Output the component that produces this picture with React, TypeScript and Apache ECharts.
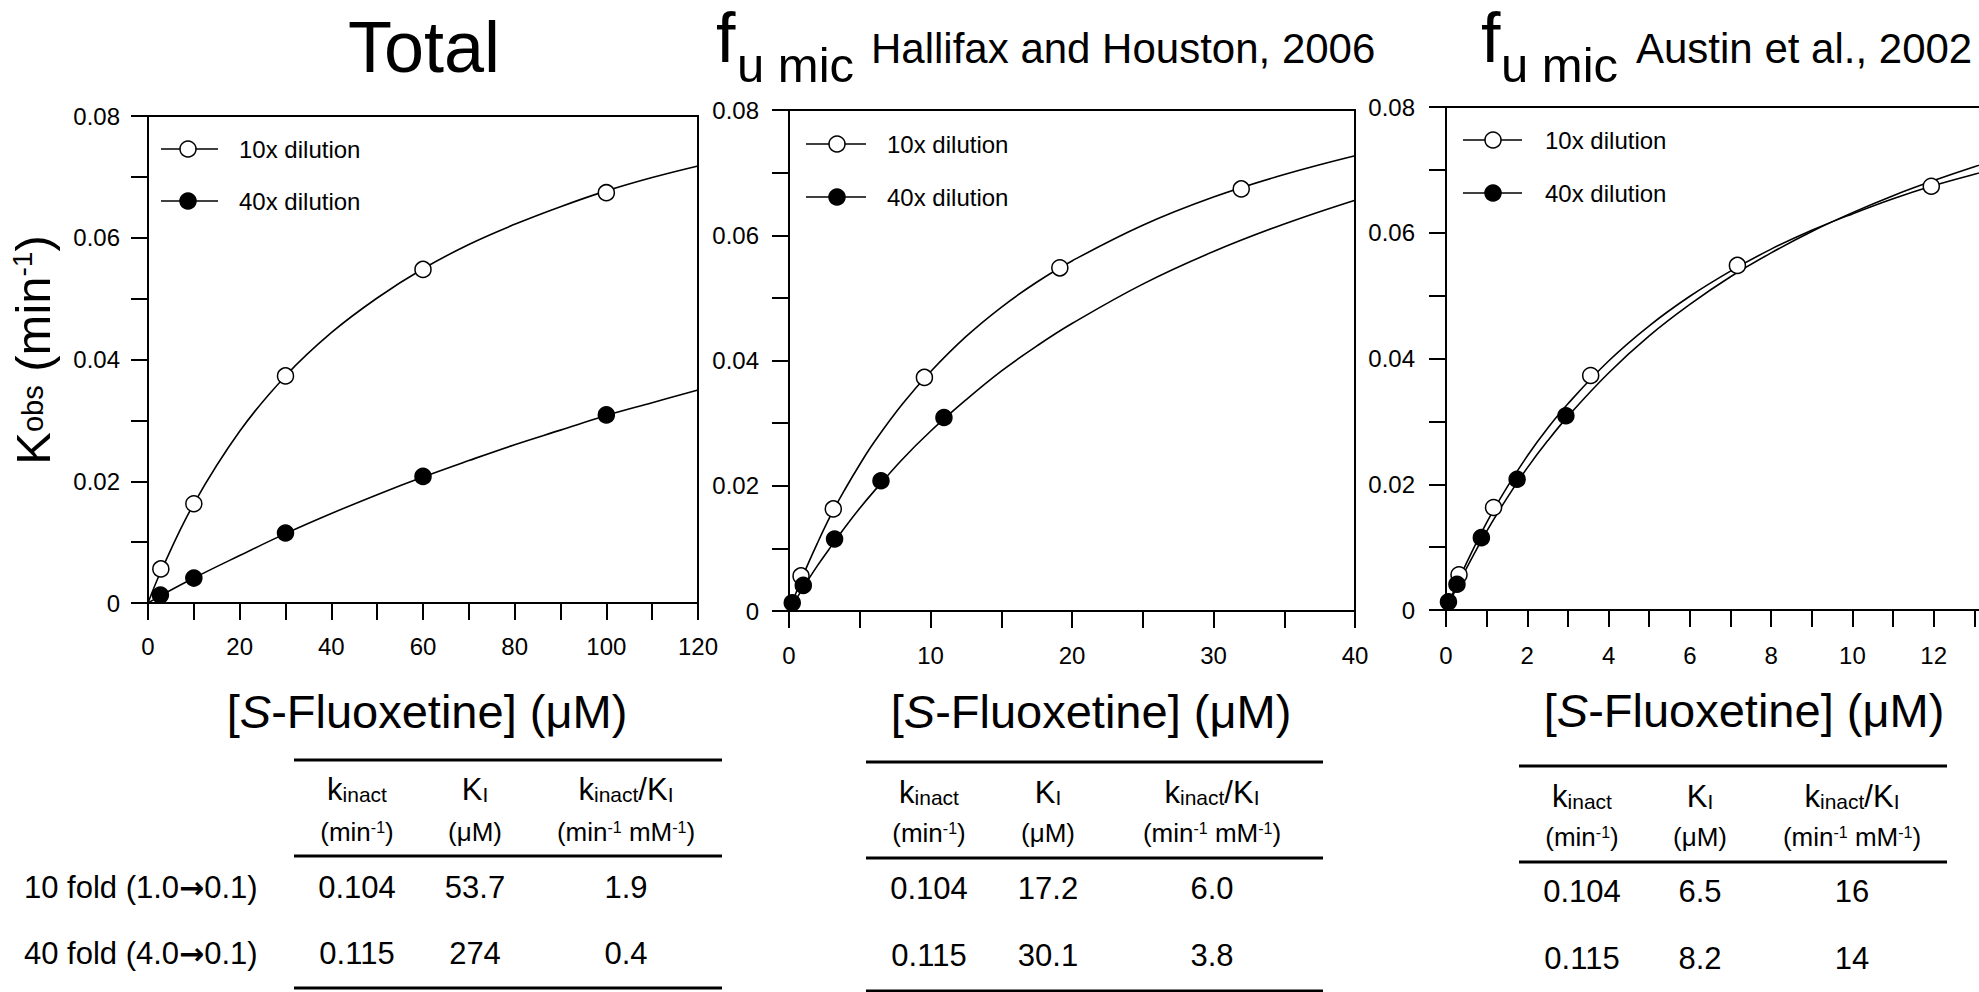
import React, { useEffect, useRef } from "react";
import * as echarts from "echarts";

const FONT = "'Liberation Sans', Arial, Helvetica, sans-serif";

// ---------------- data ----------------
// measured kobs (min^-1) for the 5 concentrations of each dilution
const kobs10 = [0.0056, 0.0163, 0.0373, 0.0548, 0.0674];
const kobs40 = [0.0013, 0.0041, 0.0115, 0.0208, 0.0309];

// x positions: total, fu mic (Hallifax & Houston 2006), fu mic (Austin 2002)
const conc10Total = [2.8, 10, 30, 60, 100];
const conc40Total = [2.7, 10, 30, 60, 100];
const conc10Hallifax = [0.85, 3.13, 9.57, 19.14, 31.96];
const conc40Hallifax = [0.23, 1.01, 3.22, 6.5, 10.95];
const conc10Austin = [0.32, 1.17, 3.56, 7.17, 11.94];
const conc40Austin = [0.06, 0.27, 0.87, 1.75, 2.95];

// fitted curves
const fitXTotal = [0, 3, 10, 20, 30, 40, 50, 60, 70, 80, 90, 100, 110, 120];
const fit10Total = [0, 0.0055, 0.0163, 0.0282, 0.0373, 0.0444, 0.0501, 0.0549, 0.0589, 0.0622, 0.0651, 0.0677, 0.0699, 0.0718];
const fit40Total = [0, 0.0013, 0.0041, 0.0078, 0.0114, 0.0147, 0.0178, 0.0207, 0.0234, 0.026, 0.0284, 0.0308, 0.0329, 0.035];

const fitXHallifax = [0, 1, 2, 3, 4, 5, 6, 8, 10, 12.5, 15, 17.5, 20, 25, 30, 35, 40];
const fit10Hallifax = [0, 0.0057, 0.0108, 0.0155, 0.0196, 0.0234, 0.0269, 0.033, 0.0382, 0.0438, 0.0485, 0.0525, 0.0559, 0.0616, 0.0661, 0.0697, 0.0727];
const fit40Hallifax = [0, 0.0037, 0.0072, 0.0104, 0.0135, 0.0164, 0.0191, 0.0242, 0.0287, 0.0337, 0.0383, 0.0423, 0.0459, 0.0522, 0.0574, 0.0618, 0.0656];

const fitXAustin = [0, 0.25, 0.5, 1, 1.5, 2, 2.5, 3, 4, 5, 6, 7, 8, 9, 10, 11, 12, 13, 14];
const fit10Austin = [0, 0.0039, 0.0074, 0.0139, 0.0195, 0.0245, 0.0289, 0.0328, 0.0396, 0.0452, 0.0499, 0.0539, 0.0574, 0.0604, 0.063, 0.0654, 0.0675, 0.0693, 0.071];
const fit40Austin = [0, 0.0034, 0.0066, 0.0125, 0.0178, 0.0226, 0.0269, 0.0308, 0.0377, 0.0436, 0.0486, 0.053, 0.0568, 0.0602, 0.0632, 0.0659, 0.0683, 0.0705, 0.0725];

// axes
const yMax = 0.08;
const yInterval = 0.02;
const xMaxes = [120, 40, 14];
const xIntervals = [20, 10, 2];
const showXMaxLabel = [true, true, false];

// legend / titles / tables
const legendNames = ["10x dilution", "40x dilution"];
const panelSources = ["", "Hallifax and Houston, 2006", "Austin et al., 2002"];
const rowLabels = ["10 fold (1.0{a|\u2192}0.1)", "40 fold (4.0{a|\u2192}0.1)"];
const kinactValues = ["0.104", "0.115"];
const kiValues = [["53.7", "274"], ["17.2", "30.1"], ["6.5", "8.2"]];
const ratioValues = [["1.9", "0.4"], ["6.0", "3.8"], ["16", "14"]];

// ---------------- layout ----------------
const GRIDS = [
  { left: 148, top: 116, width: 550, height: 487 },
  { left: 789, top: 110, width: 566, height: 501 },
  { left: 1446, top: 107, width: 569, height: 503 },
];
const X_LABEL_MARGIN = [31, 32, 33];
const Y_LABEL_MARGIN = [28, 30, 31];

const LEGENDS = [
  { x1: 161, x2: 218, cx: 188, tx: 239, y: [149, 201] },
  { x1: 806, x2: 866, cx: 837, tx: 887, y: [144, 197] },
  { x1: 1463, x2: 1522, cx: 1493, tx: 1545, y: [140, 193] },
];

const X_TITLES = [
  { x: 427, y: 711 },
  { x: 1091, y: 711 },
  { x: 1744, y: 710 },
];

const TABLES = [
  { x1: 294, x2: 722, rules: [760, 856, 988], h1: 789, h2: 832, r: [887, 953], cols: [357, 475, 626] },
  { x1: 866, x2: 1323, rules: [762, 858, 991], h1: 792, h2: 833, r: [888, 955], cols: [929, 1048, 1212] },
  { x1: 1519, x2: 1947, rules: [766, 862], h1: 796, h2: 837, r: [891, 958], cols: [1582, 1700, 1852] },
];

const zip = (xs: number[], ys: number[]) => xs.map((x, i) => [x, ys[i]]);

function text(x: number, y: number, t: string, fontSize: number, extra: any = {}) {
  const { align = "center", rich, rotation, fontStyle } = extra;
  const el: any = {
    type: "text",
    x,
    y,
    silent: true,
    style: {
      text: t,
      fontSize,
      fontFamily: FONT,
      fill: "#000",
      align,
      verticalAlign: "middle",
      fontStyle,
      rich,
    },
  };
  if (rotation !== undefined) el.rotation = rotation;
  return el;
}

function buildOption() {
  const grid = GRIDS.map((g) => ({
    ...g,
    show: true,
    borderColor: "#000",
    borderWidth: 2,
    backgroundColor: "transparent",
    containLabel: false,
    outerBoundsMode: "none",
  }));

  const axisCommon = {
    type: "value",
    axisLine: { show: true, onZero: false, lineStyle: { color: "#000", width: 2 } },
    axisTick: { show: true, inside: false, length: 17, lineStyle: { color: "#000", width: 2 } },
    minorTick: { show: true, splitNumber: 2, length: 17, lineStyle: { color: "#000", width: 2 } },
    splitLine: { show: false },
    minorSplitLine: { show: false },
  };

  const xAxis = xMaxes.map((mx, i) => ({
    ...axisCommon,
    gridIndex: i,
    min: 0,
    max: mx,
    interval: xIntervals[i],
    axisLabel: {
      color: "#000",
      fontSize: 24,
      fontFamily: FONT,
      margin: X_LABEL_MARGIN[i],
      showMaxLabel: showXMaxLabel[i],
    },
  }));

  const yAxis = xMaxes.map((_, i) => ({
    ...axisCommon,
    gridIndex: i,
    min: 0,
    max: yMax,
    interval: yInterval,
    axisLabel: { color: "#000", fontSize: 24, fontFamily: FONT, margin: Y_LABEL_MARGIN[i] },
  }));

  const fits = [
    [fitXTotal, fit10Total, fit40Total],
    [fitXHallifax, fit10Hallifax, fit40Hallifax],
    [fitXAustin, fit10Austin, fit40Austin],
  ];
  const pts = [
    [conc10Total, conc40Total],
    [conc10Hallifax, conc40Hallifax],
    [conc10Austin, conc40Austin],
  ];

  const series: any[] = [];
  for (let i = 0; i < 3; i++) {
    const [fx, f10, f40] = fits[i];
    for (const fy of [f10, f40]) {
      series.push({
        type: "line",
        xAxisIndex: i,
        yAxisIndex: i,
        data: zip(fx, fy),
        smooth: 0.4,
        showSymbol: false,
        symbol: "none",
        silent: true,
        lineStyle: { color: "#000", width: 1.6 },
        z: 2,
      });
    }
    series.push({
      type: "scatter",
      name: legendNames[0],
      xAxisIndex: i,
      yAxisIndex: i,
      data: zip(pts[i][0], kobs10),
      symbol: "circle",
      symbolSize: 16,
      clip: false,
      itemStyle: { color: "#fff", borderColor: "#000", borderWidth: 1.5, opacity: 1 },
      z: 4,
    });
    series.push({
      type: "scatter",
      name: legendNames[1],
      xAxisIndex: i,
      yAxisIndex: i,
      data: zip(pts[i][1], kobs40),
      symbol: "circle",
      symbolSize: 16,
      clip: false,
      itemStyle: { color: "#000", borderColor: "#000", borderWidth: 1.5, opacity: 1 },
      z: 5,
    });
  }

  const g: any[] = [];

  // titles
  g.push(text(424, 47, "Total", 72));
  const titleX = [
    null,
    { f: 716, sub: 737, src: 871 },
    { f: 1481, sub: 1501, src: 1636 },
  ];
  for (let i = 1; i < 3; i++) {
    const t = titleX[i]!;
    g.push(text(t.f, 38, "f", 70, { align: "left" }));
    g.push(text(t.sub, 65, "u mic", 49, { align: "left" }));
    g.push(text(t.src, 48.5, panelSources[i], 42, { align: "left" }));
  }

  // y-axis title
  g.push(
    text(33, 350, "K{s|obs} (min{p|-1})", 49, {
      rotation: Math.PI / 2,
      rich: {
        s: { fontSize: 29, fontFamily: FONT, fill: "#000", verticalAlign: "middle" },
        p: { fontSize: 28, fontFamily: FONT, fill: "#000", verticalAlign: "top" },
      },
    })
  );

  // x-axis titles
  X_TITLES.forEach((p) => {
    g.push(
      text(p.x, p.y, "[{i|S}-Fluoxetine] (\u03bcM)", 47, {
        rich: { i: { fontSize: 47, fontFamily: FONT, fill: "#000", fontStyle: "italic" } },
      })
    );
  });

  // legends
  LEGENDS.forEach((L) => {
    legendNames.forEach((name, k) => {
      const y = L.y[k];
      g.push({ type: "line", silent: true, shape: { x1: L.x1, y1: y, x2: L.x2, y2: y }, style: { stroke: "#000", lineWidth: 1.6 } });
      g.push({
        type: "circle",
        silent: true,
        shape: { cx: L.cx, cy: y, r: 8 },
        style: { fill: k === 0 ? "#fff" : "#000", stroke: "#000", lineWidth: 1.5 },
      });
      g.push(text(L.tx, y, name, 24, { align: "left" }));
    });
  });

  // tables
  const headRich = {
    b: { fontSize: 31, fontFamily: FONT, fill: "#000", verticalAlign: "bottom" },
    s: { fontSize: 21, fontFamily: FONT, fill: "#000", verticalAlign: "bottom" },
  };
  const unitRich = {
    p: { fontSize: 16, fontFamily: FONT, fill: "#000", verticalAlign: "top" },
  };
  TABLES.forEach((T, ti) => {
    T.rules.forEach((ry) => {
      g.push({ type: "line", silent: true, shape: { x1: T.x1, y1: ry, x2: T.x2, y2: ry }, style: { stroke: "#000", lineWidth: 3 } });
    });
    g.push(text(T.cols[0], T.h1, "{b|k}{s|inact}", 31, { rich: headRich }));
    g.push(text(T.cols[1], T.h1, "{b|K}{s|I}", 31, { rich: headRich }));
    g.push(text(T.cols[2], T.h1, "{b|k}{s|inact}{b|/K}{s|I}", 31, { rich: headRich }));
    g.push(text(T.cols[0], T.h2, "(min{p|-1})", 26, { rich: unitRich }));
    g.push(text(T.cols[1], T.h2, "(\u03bcM)", 26));
    g.push(text(T.cols[2], T.h2, "(min{p|-1} mM{p|-1})", 26, { rich: unitRich }));
    for (let r = 0; r < 2; r++) {
      g.push(text(T.cols[0], T.r[r], kinactValues[r], 31));
      g.push(text(T.cols[1], T.r[r], kiValues[ti][r], 31));
      g.push(text(T.cols[2], T.r[r], ratioValues[ti][r], 31));
    }
  });
  rowLabels.forEach((lab, r) => {
    g.push(
      text(24, TABLES[0].r[r], lab, 31, {
        align: "left",
        rich: { a: { fontSize: 30, fontFamily: "'DejaVu Sans', sans-serif", fill: "#000", fontWeight: "bold" } },
      })
    );
  });

  return {
    animation: false,
    backgroundColor: "#fff",
    textStyle: { fontFamily: FONT, color: "#000" },
    grid,
    xAxis,
    yAxis,
    series,
    graphic: { elements: g },
  };
}

export default function App() {
  const ref = useRef<HTMLDivElement>(null);
  useEffect(() => {
    if (!ref.current) return;
    const chart = echarts.init(ref.current, null, { renderer: "svg" });
    chart.setOption(buildOption() as any);
    return () => chart.dispose();
  }, []);
  return (
    <div
      ref={ref}
      style={{ position: "absolute", left: 0, top: 0, width: 1979, height: 992, background: "#fff" }}
    />
  );
}
